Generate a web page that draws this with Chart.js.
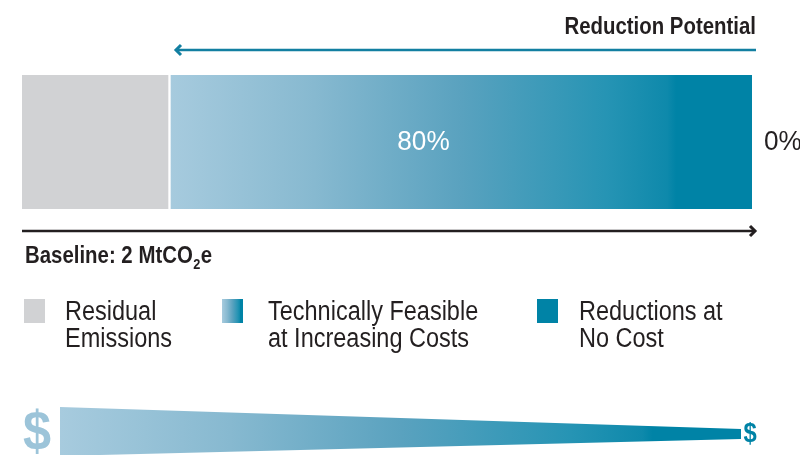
<!DOCTYPE html>
<html>
<head>
<meta charset="utf-8">
<script src="https://cdn.jsdelivr.net/npm/chart.js@4/dist/chart.umd.min.js"></script>
<style>
html,body{margin:0;padding:0;background:#fff;overflow:hidden;}
#wrap{position:relative;width:800px;height:455px;}
</style>
</head>
<body>
<div id="wrap"><canvas id="c"></canvas></div>
<script>
// ---- data ----
const categories = ['Baseline'];
const seriesNames = ['Residual Emissions', 'Technically Feasible at Increasing Costs', 'Reductions at No Cost'];
const residualValues = [20];
const feasibleValues = [80];
const noCostValues = [0];
const valueLabels = ['80%', '0%'];
const headerText = 'Reduction Potential';
const baselineText = ['Baseline: 2 MtCO', '2', 'e'];
const legendLines = [['Residual', 'Emissions'], ['Technically Feasible', 'at Increasing Costs'], ['Reductions at', 'No Cost']];

// ---- styles ----
const GRAY = '#d1d2d4';
const TEAL = '#0083a6';
const TEXT = '#231f20';
const gradStops = [[0, '#a7cbde'], [0.25, '#87b9d0'], [0.5, '#5aa2bf'], [0.75, '#2694b4'], [0.855, '#0e89ab'], [0.87, '#0083a6'], [1, '#0083a6']];
const FR = '"Liberation Sans", Arial, sans-serif';

function makeGrad(ctx, x0, x1) {
  const g = ctx.createLinearGradient(x0, 0, x1, 0);
  gradStops.forEach(s => g.addColorStop(s[0], s[1]));
  return g;
}

// draw text horizontally condensed (narrow face look)
function txt(ctx, s, x, y, font, sx, align, baseline) {
  ctx.save();
  ctx.font = font;
  ctx.textAlign = align || 'left';
  ctx.textBaseline = baseline || 'alphabetic';
  ctx.translate(x, y);
  ctx.scale(sx, 1);
  ctx.fillText(s, 0, 0);
  const w = ctx.measureText(s).width * sx;
  ctx.restore();
  return w;
}

function arrowHead(ctx, x, y, dir, size) {
  ctx.beginPath();
  ctx.moveTo(x - dir * size, y - size);
  ctx.lineTo(x, y);
  ctx.lineTo(x - dir * size, y + size);
  ctx.stroke();
}

const extras = {
  id: 'extras',
  afterDatasetsDraw(chart) {
    const ctx = chart.ctx;
    const xs = chart.scales.x;
    const bar1 = chart.getDatasetMeta(1).data[0];
    ctx.save();
    // header
    ctx.fillStyle = TEXT;
    txt(ctx, headerText, 756, 34, 'bold 24px ' + FR, 0.85, 'right');
    // reduction arrow
    ctx.strokeStyle = '#127fa1';
    ctx.lineWidth = 2.5;
    ctx.beginPath();
    ctx.moveTo(177, 50); ctx.lineTo(756, 50); ctx.stroke();
    ctx.lineWidth = 3;
    arrowHead(ctx, 176, 50, -1, 5);
    // value labels
    ctx.fillStyle = '#ffffff';
    txt(ctx, valueLabels[0], xs.getPixelForValue(55), bar1.y + 1, '27px ' + FR, 0.97, 'center', 'middle');
    ctx.fillStyle = TEXT;
    txt(ctx, valueLabels[1], xs.getPixelForValue(100) + 12, bar1.y + 1, '27px ' + FR, 0.97, 'left', 'middle');
    // baseline arrow
    ctx.strokeStyle = TEXT;
    ctx.lineWidth = 2.5;
    ctx.beginPath();
    ctx.moveTo(22, 231); ctx.lineTo(754, 231); ctx.stroke();
    ctx.lineWidth = 3;
    arrowHead(ctx, 755, 231, 1, 5);
    // baseline text
    ctx.fillStyle = TEXT;
    let x = 25;
    x += txt(ctx, baselineText[0], x, 263, 'bold 24px ' + FR, 0.85);
    x += 0.5;
    x += txt(ctx, baselineText[1], x, 269, 'bold 15px ' + FR, 0.85);
    x += 0.5;
    txt(ctx, baselineText[2], x, 263, 'bold 24px ' + FR, 0.85);
    // legend
    const lx = [24, 222, 537];
    const tx = [65, 268, 579];
    for (let i = 0; i < 3; i++) {
      if (i === 0) ctx.fillStyle = GRAY;
      else if (i === 1) ctx.fillStyle = makeGrad(ctx, lx[i], lx[i] + 21);
      else ctx.fillStyle = TEAL;
      ctx.fillRect(lx[i], 299, 21, 24);
      ctx.fillStyle = TEXT;
      txt(ctx, legendLines[i][0], tx[i], 320, '27px ' + FR, 0.87);
      txt(ctx, legendLines[i][1], tx[i], 347, '27px ' + FR, 0.87);
    }
    // cost wedge
    ctx.fillStyle = makeGrad(ctx, 60, 741);
    ctx.beginPath();
    ctx.moveTo(60, 407);
    ctx.lineTo(741, 429);
    ctx.lineTo(741, 439);
    ctx.lineTo(60, 456);
    ctx.closePath();
    ctx.fill();
    ctx.fillStyle = '#9cc4d9';
    txt(ctx, '$', 37, 450, 'bold 56px ' + FR, 0.9, 'center', 'alphabetic');
    ctx.fillStyle = TEAL;
    txt(ctx, '$', 750, 442, 'bold 28px ' + FR, 0.85, 'center', 'alphabetic');
    ctx.restore();
  }
};

new Chart(document.getElementById('c'), {
  type: 'bar',
  data: {
    labels: categories,
    datasets: [
      { label: seriesNames[0], data: residualValues, backgroundColor: GRAY, borderWidth: 0 },
      { label: seriesNames[1], data: feasibleValues,
        backgroundColor: (c) => {
          const ch = c.chart;
          if (!ch.chartArea) return '#5aa2bf';
          return makeGrad(ch.ctx, ch.scales.x.getPixelForValue(20), ch.scales.x.getPixelForValue(100));
        },
        borderColor: '#ffffff', borderWidth: { left: 3, top: 0, right: 0, bottom: 0 }, borderSkipped: false },
      { label: seriesNames[2], data: noCostValues, backgroundColor: TEAL, borderWidth: 0 }
    ]
  },
  options: {
    indexAxis: 'y',
    responsive: true,
    maintainAspectRatio: false,
    animation: false,
    layout: { padding: { top: 75, bottom: 246, left: 22, right: 48 } },
    datasets: { bar: { barPercentage: 1, categoryPercentage: 1 } },
    scales: {
      x: { stacked: true, min: 0, max: 100, display: false },
      y: { stacked: true, display: false }
    },
    plugins: { legend: { display: false }, tooltip: { enabled: false } }
  },
  plugins: [extras]
});
</script>
</body>
</html>
